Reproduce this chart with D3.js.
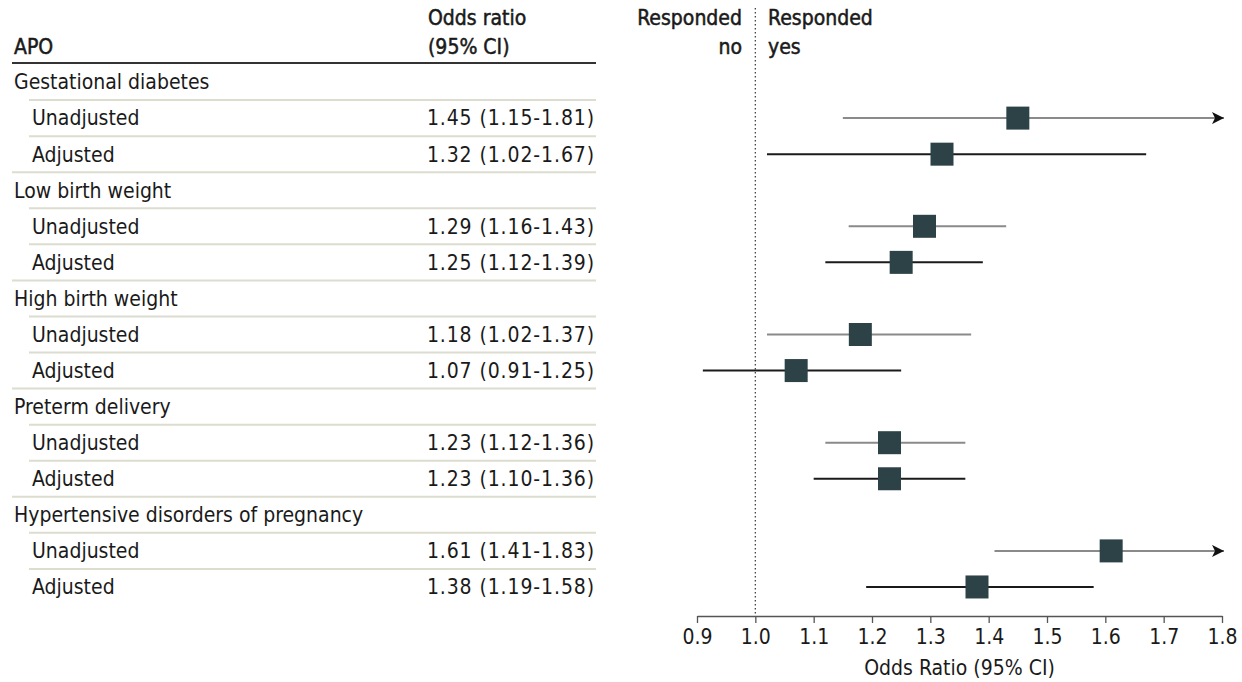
<!DOCTYPE html>
<html>
<head>
<meta charset="utf-8">
<script src="https://cdn.jsdelivr.net/npm/d3@7"></script>
<style>
  body { margin: 0; background: #fff; }
  svg text { font-family: "DejaVu Sans Condensed", "DejaVu Sans", sans-serif; font-stretch: condensed; fill: #1a1a1a; }
  .hdr { stroke: #1a1a1a; stroke-width: 0.5px; }
</style>
</head>
<body>
<div id="chart"></div>
<script>
const groups = ["Gestational diabetes", "Low birth weight", "High birth weight", "Preterm delivery", "Hypertensive disorders of pregnancy"];
const subLabels = ["Unadjusted", "Adjusted"];
const oddsRatio = [1.45, 1.32, 1.29, 1.25, 1.18, 1.07, 1.23, 1.23, 1.61, 1.38];
const ciLow = [1.15, 1.02, 1.16, 1.12, 1.02, 0.91, 1.12, 1.10, 1.41, 1.19];
const ciHigh = [1.81, 1.67, 1.43, 1.39, 1.37, 1.25, 1.36, 1.36, 1.83, 1.58];
const xTicks = [0.9, 1.0, 1.1, 1.2, 1.3, 1.4, 1.5, 1.6, 1.7, 1.8];

const width = 1242, height = 682;
const fs = 21;
const svg = d3.select("#chart").append("svg").attr("width", width).attr("height", height);

// rows: group header, then unadjusted + adjusted
const rows = [];
let k = 0;
groups.forEach((g, gi) => {
  rows.push({ type: "group", label: g, gi });
  subLabels.forEach((s, si) => {
    rows.push({ type: "sub", label: s, si, gi, or: oddsRatio[k], lo: ciLow[k], hi: ciHigh[k] });
    k++;
  });
});

const y = d3.scaleBand().domain(d3.range(rows.length)).range([64, 605]);
const x = d3.scaleLinear().domain([0.9, 1.8]).range([697, 1222]);
const rowY = i => y(i) + y.bandwidth() / 2;
const fmt = d3.format(".2f");

// header
const hdr = (tx, ty, t, anchor) => svg.append("text").attr("class", "hdr")
  .attr("x", tx).attr("y", ty).attr("font-size", fs).attr("text-anchor", anchor || "start").text(t);
hdr(14, 54, "APO");
hdr(428, 25, "Odds ratio");
hdr(428, 54, "(95% CI)");
hdr(742, 25, "Responded", "end");
hdr(742, 54, "no", "end");
hdr(768, 25, "Responded");
hdr(768, 54, "yes");
svg.append("line").attr("x1", 12).attr("x2", 596).attr("y1", 63).attr("y2", 63)
  .attr("stroke", "#333").attr("stroke-width", 2);

// separators
svg.append("g").selectAll("line")
  .data(rows.slice(0, -1).map((r, i) => ({ r, i })))
  .join("line")
  .attr("x1", d => (d.r.type === "sub" && d.r.si === 1) ? 12 : 29)
  .attr("x2", 596)
  .attr("y1", d => y(d.i) + y.bandwidth())
  .attr("y2", d => y(d.i) + y.bandwidth())
  .attr("stroke", "#dcdccf").attr("stroke-width", 2);

// labels
const labels = svg.append("g");
labels.selectAll("text.lab")
  .data(rows.map((r, i) => ({ r, i })))
  .join("text").attr("class", "lab")
  .attr("x", d => d.r.type === "group" ? 14 : 32)
  .attr("y", d => rowY(d.i))
  .attr("dy", "0.35em")
  .attr("font-size", fs)
  .text(d => d.r.label);

labels.selectAll("text.val")
  .data(rows.map((r, i) => ({ r, i })).filter(d => d.r.type === "sub"))
  .join("text").attr("class", "val")
  .attr("x", 595)
  .attr("y", d => rowY(d.i))
  .attr("dy", "0.35em")
  .attr("text-anchor", "end")
  .attr("font-size", fs)
  .attr("letter-spacing", 0.9)
  .text(d => `${fmt(d.r.or)} (${fmt(d.r.lo)}-${fmt(d.r.hi)})`);

// reference line
svg.append("line").attr("x1", x(1)).attr("x2", x(1)).attr("y1", 8).attr("y2", 616)
  .attr("stroke", "#444").attr("stroke-width", 1.3).attr("stroke-dasharray", "1.5,2.5");

// arrow marker
svg.append("defs").append("marker")
  .attr("id", "arrow").attr("viewBox", "0 0 10 10").attr("refX", 10).attr("refY", 5)
  .attr("markerWidth", 13).attr("markerHeight", 12).attr("markerUnits", "userSpaceOnUse")
  .attr("orient", "auto")
  .append("path").attr("d", "M0,0L10,5L0,10L2.5,5Z").attr("fill", "#111");

const pts = rows.map((r, i) => ({ r, i })).filter(d => d.r.type === "sub");
const xmax = x.domain()[1];

svg.append("g").selectAll("line")
  .data(pts)
  .join("line")
  .attr("x1", d => x(Math.max(d.r.lo, x.domain()[0])))
  .attr("x2", d => d.r.hi > xmax ? x(xmax) + 2 : x(d.r.hi))
  .attr("y1", d => rowY(d.i)).attr("y2", d => rowY(d.i))
  .attr("stroke", d => d.r.si === 0 ? "#8a8a8a" : "#1a1a1a")
  .attr("stroke-width", 2)
  .attr("marker-end", d => d.r.hi > xmax ? "url(#arrow)" : null);

const sq = 23;
svg.append("g").selectAll("rect")
  .data(pts)
  .join("rect")
  .attr("x", d => x(d.r.or) - sq / 2)
  .attr("y", d => rowY(d.i) - sq / 2)
  .attr("width", sq).attr("height", sq)
  .attr("fill", "#2c4247");

// axis
const axis = svg.append("g").attr("transform", "translate(0,616)")
  .call(d3.axisBottom(x).tickValues(xTicks).tickFormat(d3.format(".1f")).tickSize(7).tickSizeOuter(0));
axis.select(".domain").attr("stroke", "#555").attr("stroke-width", 1.3);
axis.selectAll(".tick line").attr("stroke", "#555").attr("stroke-width", 1.3);
axis.selectAll(".tick text").attr("font-size", fs).attr("y", 13).attr("fill", "#1a1a1a")
  .attr("font-family", null);

svg.append("text").attr("x", x(1.35)).attr("y", 675).attr("text-anchor", "middle")
  .attr("font-size", fs).text("Odds Ratio (95% CI)");
</script>
</body>
</html>
